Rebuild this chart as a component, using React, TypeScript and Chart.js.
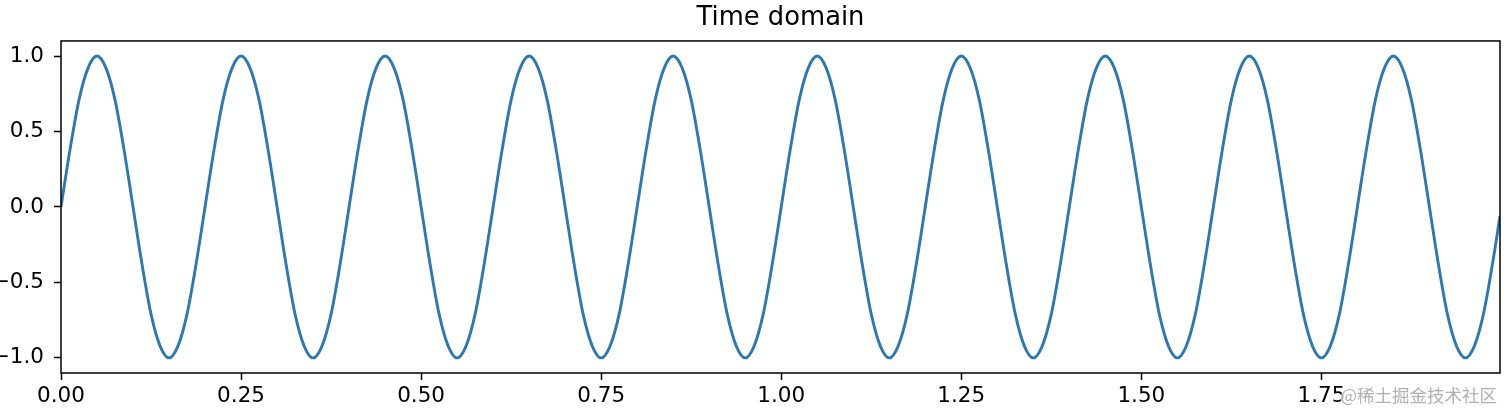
import React, { useEffect, useRef } from "react";
import { Chart, registerables } from "chart.js";

Chart.register(...registerables);

// Sample times (seconds), 16 samples per period
const timeSec = [
  0.0, 0.0125, 0.025, 0.0375, 0.05, 0.0625, 0.075, 0.0875, 0.1, 0.1125, 0.125, 0.1375, 0.15, 0.1625, 0.175, 0.1875,
  0.2, 0.2125, 0.225, 0.2375, 0.25, 0.2625, 0.275, 0.2875, 0.3, 0.3125, 0.325, 0.3375, 0.35, 0.3625, 0.375, 0.3875,
  0.4, 0.4125, 0.425, 0.4375, 0.45, 0.4625, 0.475, 0.4875, 0.5, 0.5125, 0.525, 0.5375, 0.55, 0.5625, 0.575, 0.5875,
  0.6, 0.6125, 0.625, 0.6375, 0.65, 0.6625, 0.675, 0.6875, 0.7, 0.7125, 0.725, 0.7375, 0.75, 0.7625, 0.775, 0.7875,
  0.8, 0.8125, 0.825, 0.8375, 0.85, 0.8625, 0.875, 0.8875, 0.9, 0.9125, 0.925, 0.9375, 0.95, 0.9625, 0.975, 0.9875,
  1.0, 1.0125, 1.025, 1.0375, 1.05, 1.0625, 1.075, 1.0875, 1.1, 1.1125, 1.125, 1.1375, 1.15, 1.1625, 1.175, 1.1875,
  1.2, 1.2125, 1.225, 1.2375, 1.25, 1.2625, 1.275, 1.2875, 1.3, 1.3125, 1.325, 1.3375, 1.35, 1.3625, 1.375, 1.3875,
  1.4, 1.4125, 1.425, 1.4375, 1.45, 1.4625, 1.475, 1.4875, 1.5, 1.5125, 1.525, 1.5375, 1.55, 1.5625, 1.575, 1.5875,
  1.6, 1.6125, 1.625, 1.6375, 1.65, 1.6625, 1.675, 1.6875, 1.7, 1.7125, 1.725, 1.7375, 1.75, 1.7625, 1.775, 1.7875,
  1.8, 1.8125, 1.825, 1.8375, 1.85, 1.8625, 1.875, 1.8875, 1.9, 1.9125, 1.925, 1.9375, 1.95, 1.9625, 1.975, 1.9875,
  1.998,
];

// Signal amplitude at each sample time
const amplitude = [
  0.0, 0.38, 0.71, 0.92, 1.0, 0.92, 0.71, 0.38, 0.0, -0.38, -0.71, -0.92, -1.0, -0.92, -0.71, -0.38,
  0.0, 0.38, 0.71, 0.92, 1.0, 0.92, 0.71, 0.38, 0.0, -0.38, -0.71, -0.92, -1.0, -0.92, -0.71, -0.38,
  0.0, 0.38, 0.71, 0.92, 1.0, 0.92, 0.71, 0.38, 0.0, -0.38, -0.71, -0.92, -1.0, -0.92, -0.71, -0.38,
  0.0, 0.38, 0.71, 0.92, 1.0, 0.92, 0.71, 0.38, 0.0, -0.38, -0.71, -0.92, -1.0, -0.92, -0.71, -0.38,
  0.0, 0.38, 0.71, 0.92, 1.0, 0.92, 0.71, 0.38, 0.0, -0.38, -0.71, -0.92, -1.0, -0.92, -0.71, -0.38,
  0.0, 0.38, 0.71, 0.92, 1.0, 0.92, 0.71, 0.38, 0.0, -0.38, -0.71, -0.92, -1.0, -0.92, -0.71, -0.38,
  0.0, 0.38, 0.71, 0.92, 1.0, 0.92, 0.71, 0.38, 0.0, -0.38, -0.71, -0.92, -1.0, -0.92, -0.71, -0.38,
  0.0, 0.38, 0.71, 0.92, 1.0, 0.92, 0.71, 0.38, 0.0, -0.38, -0.71, -0.92, -1.0, -0.92, -0.71, -0.38,
  0.0, 0.38, 0.71, 0.92, 1.0, 0.92, 0.71, 0.38, 0.0, -0.38, -0.71, -0.92, -1.0, -0.92, -0.71, -0.38,
  0.0, 0.38, 0.71, 0.92, 1.0, 0.92, 0.71, 0.38, 0.0, -0.38, -0.71, -0.92, -1.0, -0.92, -0.71, -0.38,
  -0.06,
];

const xTickValues = [0, 0.25, 0.5, 0.75, 1.0, 1.25, 1.5, 1.75];
const yTickValues = [-1.0, -0.5, 0.0, 0.5, 1.0];
const chartTitle = "Time domain";
const watermark = "@稀土掘金技术社区";

const FONT = "'DejaVu Sans', sans-serif";

const framePlugin = {
  id: "frame",
  afterDraw(chart: any) {
    const { ctx, chartArea } = chart;
    ctx.save();
    ctx.strokeStyle = "#000";
    ctx.lineWidth = 1.5;
    ctx.strokeRect(chartArea.left, chartArea.top, chartArea.right - chartArea.left, chartArea.bottom - chartArea.top);
    ctx.font = "17.5px 'Noto Sans CJK SC', sans-serif";
    ctx.textAlign = "right";
    ctx.textBaseline = "middle";
    ctx.lineWidth = 2;
    ctx.strokeStyle = "rgba(255,255,255,0.8)";
    ctx.strokeText(watermark, 1497, 395);
    ctx.fillStyle = "rgba(150,150,150,0.75)";
    ctx.fillText(watermark, 1497, 395);
    ctx.restore();
  },
};

export default function App() {
  const ref = useRef<HTMLCanvasElement | null>(null);
  useEffect(() => {
    if (!ref.current) return;
    const chart = new Chart(ref.current, {
      type: "line",
      data: {
        datasets: [
          {
            data: timeSec.map((t, i) => ({ x: t, y: amplitude[i] })),
            borderColor: "#2a78b4",
            borderWidth: 2.9,
            pointRadius: 0,
            fill: false,
            cubicInterpolationMode: "monotone",
          },
        ],
      },
      options: {
        animation: false,
        responsive: false,
        maintainAspectRatio: false,
        layout: { padding: { left: 0, right: 12, top: 0, bottom: 0 } },
        plugins: {
          legend: { display: false },
          tooltip: { enabled: false },
          title: {
            display: true,
            text: chartTitle,
            fullSize: false,
            color: "#000",
            font: { family: FONT, size: 25.8, weight: "normal" },
            padding: { top: 3, bottom: 7 },
          },
        },
        scales: {
          x: {
            type: "linear",
            min: 0,
            max: 1.998,
            afterFit(scale: any) {
              scale.height = 46;
            },
            afterBuildTicks(scale: any) {
              scale.ticks = xTickValues.map((v) => ({ value: v }));
            },
            ticks: {
              includeBounds: false,
              color: "#000",
              padding: 4,
              maxRotation: 0,
              autoSkip: false,
              font: { family: FONT, size: 21.5 },
              callback: (v: any) => Number(v).toFixed(2),
            },
            grid: {
              display: true,
              drawOnChartArea: false,
              drawTicks: true,
              tickLength: 7,
              tickWidth: 1.5,
              color: "#000",
            },
            border: { display: false },
          },
          y: {
            type: "linear",
            min: -1.1,
            max: 1.1,
            afterFit(scale: any) {
              scale.width = 61;
            },
            afterBuildTicks(scale: any) {
              scale.ticks = yTickValues.map((v) => ({ value: v }));
            },
            ticks: {
              includeBounds: false,
              color: "#000",
              padding: 10,
              autoSkip: false,
              font: { family: FONT, size: 21.5 },
              callback: (v: any) => Number(v).toFixed(1).replace("-", "\u2212"),
            },
            grid: {
              display: true,
              drawOnChartArea: false,
              drawTicks: true,
              tickLength: 7,
              tickWidth: 1.5,
              color: "#000",
            },
            border: { display: false },
          },
        },
      },
      plugins: [framePlugin],
    } as any);
    return () => chart.destroy();
  }, []);
  return (
    <div style={{ position: "fixed", left: 0, top: 0, width: 1512, height: 419, background: "#fff" }}>
      <canvas ref={ref} width={1512} height={419} style={{ width: 1512, height: 419 }} />
    </div>
  );
}
